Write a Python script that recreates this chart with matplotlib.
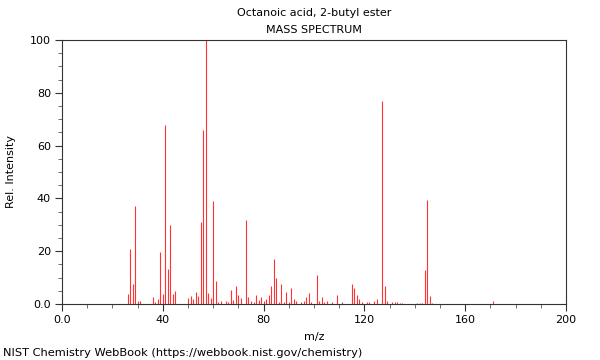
import matplotlib
matplotlib.use("Agg")
import matplotlib.pyplot as plt
from matplotlib.ticker import MultipleLocator

title = "Octanoic acid, 2-butyl ester"
subtitle = "MASS SPECTRUM"
footer = "NIST Chemistry WebBook (https://webbook.nist.gov/chemistry)"

mz = [26, 27, 28, 29, 30, 31, 36, 37, 38, 39, 40, 41, 42, 43, 44, 45,
      50, 51, 52, 53, 54, 55, 56, 57, 58, 59, 60, 61, 62, 63, 65, 66, 67,
      68, 69, 70, 71, 73, 74, 75, 76, 77, 78, 79, 80, 81, 82, 83, 84, 85,
      86, 87, 88, 89, 90, 91, 92, 93, 95, 96, 97, 98, 99, 101, 102, 103,
      104, 105, 107, 109, 111, 115, 116, 117, 118, 119, 121, 122, 124, 125,
      127, 128, 129, 131, 132, 133, 134, 135, 141, 142, 143, 144, 145, 146,
      147, 171]
intensity = [3.7, 20.7, 7.6, 37.0, 1.1, 1.3, 2.5, 0.9, 1.8, 19.7, 3.9, 67.8,
             13.4, 29.9, 3.7, 4.9,
             2.3, 3.0, 1.8, 4.5, 3.0, 30.9, 65.9, 100.0, 4.2, 2.4, 39.1, 8.7,
             0.8, 1.1, 1.1, 0.8, 5.3,
             1.5, 6.8, 3.3, 2.1, 31.8, 2.8, 1.0, 0.8, 3.3, 1.5, 2.7, 1.1, 2.0,
             3.4, 6.8, 16.9, 9.7,
             0.9, 7.4, 0.8, 4.5, 0.9, 5.9, 2.0, 1.1, 0.8, 1.0, 2.8, 4.0, 0.9,
             11.1, 1.1, 2.7,
             0.8, 1.0, 0.8, 3.3, 0.8, 7.4, 6.2, 3.3, 2.0, 0.8, 0.8, 0.8, 1.3,
             1.9,
             76.9, 6.8, 1.0, 0.8, 0.8, 0.6, 0.5, 0.3, 0.3, 0.3, 0.5, 13.0,
             39.4, 2.9,
             0.5, 1.1]

x_ticks = [0, 40, 80, 120, 160, 200]
x_ticklabels = ["0.0", "40", "80", "120", "160", "200"]
y_ticks = [0, 20, 40, 60, 80, 100]
y_ticklabels = ["0.0", "20", "40", "60", "80", "100"]

plt.rcParams['font.family'] = ['DejaVu Sans']
fig = plt.figure(figsize=(6, 3.6), dpi=100)
ax = fig.add_axes([62/600, 1 - 304/360, 504/600, 264/360])

ax.vlines(mz, 0, intensity, colors="#ff3333", linewidth=0.8)

ax.set_xlim(0, 200)
ax.set_ylim(0, 100)
ax.set_xticks(x_ticks)
ax.set_xticklabels(x_ticklabels)
ax.set_yticks(y_ticks)
ax.set_yticklabels(y_ticklabels)
ax.xaxis.set_minor_locator(MultipleLocator(10))
ax.yaxis.set_minor_locator(MultipleLocator(5))
ax.tick_params(axis="both", which="major", labelsize=8, length=5, width=0.8,
               color="#333333", labelcolor="black", pad=3)
ax.tick_params(axis="both", which="minor", length=3, width=0.6, color="#555555")
for s in ax.spines.values():
    s.set_color("#333333")
    s.set_linewidth(0.8)

ax.set_xlabel("m/z", fontsize=8, labelpad=5)
ax.set_ylabel("Rel. Intensity", fontsize=8, labelpad=10)

fig.text(314/600, 1 - 13/360, title, ha="center", va="center", fontsize=8)
fig.text(314/600, 1 - 30/360, subtitle, ha="center", va="center", fontsize=8)
fig.text(3/600, 1 - 353/360, footer, ha="left", va="center", fontsize=8.2)

fig.savefig("out.png", dpi=100)
